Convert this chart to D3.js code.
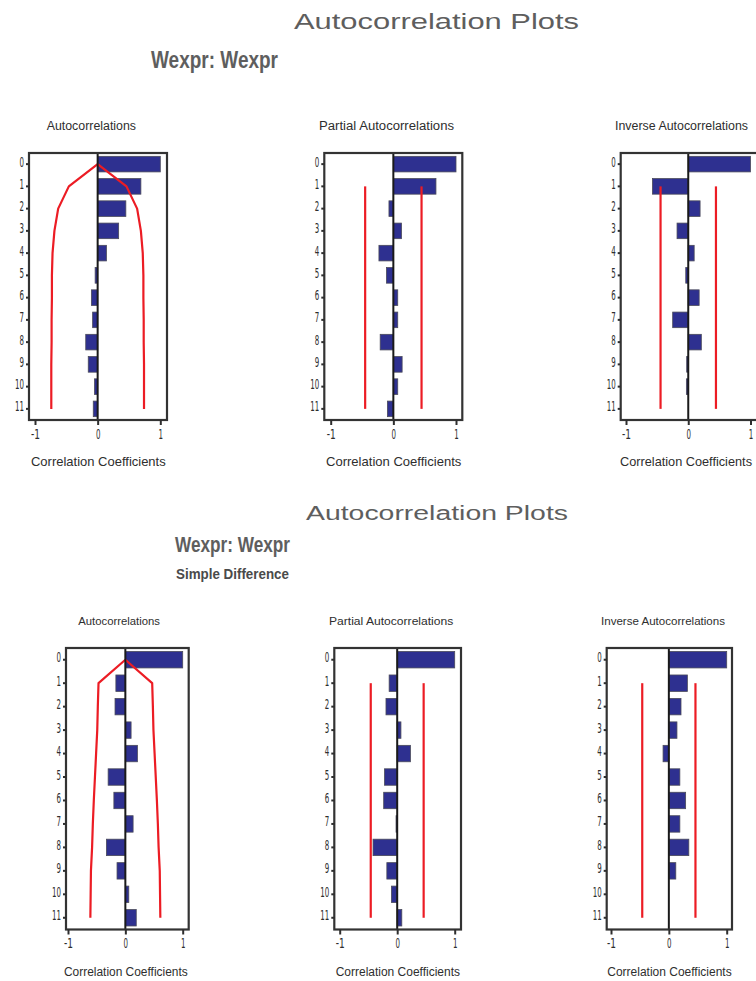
<!DOCTYPE html>
<html>
<head>
<meta charset="utf-8">
<script src="https://cdn.jsdelivr.net/npm/d3@7"></script>
<style>
  html, body { margin: 0; padding: 0; background: #ffffff; }
  svg { display: block; }
</style>
</head>
<body>
<script>
// ---- Data -------------------------------------------------------------
const lags = [0, 1, 2, 3, 4, 5, 6, 7, 8, 9, 10, 11];
const xTicks = [-1, 0, 1];

// Wexpr (level)
const acfLevel  = [1.0, 0.69, 0.45, 0.335, 0.14, -0.04, -0.10, -0.08, -0.19, -0.15, -0.05, -0.07];
const acfLevelBand = [0, 0.46, 0.63, 0.69, 0.72, 0.73, 0.73, 0.735, 0.735, 0.74, 0.74, 0.74];
const pacfLevel = [1.0, 0.68, -0.07, 0.13, -0.23, -0.11, 0.07, 0.07, -0.21, 0.14, 0.07, -0.095];
const pacfLevelLimit = 0.45;
const iacfLevel = [1.0, -0.575, 0.19, -0.18, 0.095, -0.04, 0.175, -0.25, 0.21, -0.025, -0.03, 0];
const iacfLevelLimit = 0.445;

// Wexpr (simple difference)
const acfDiff  = [1.0, -0.165, -0.18, 0.10, 0.21, -0.30, -0.20, 0.135, -0.33, -0.145, 0.06, 0.19];
const acfDiffBand = [0, 0.468, 0.48, 0.49, 0.51, 0.53, 0.55, 0.567, 0.58, 0.60, 0.605, 0.61];
const pacfDiff = [1.0, -0.14, -0.195, 0.065, 0.23, -0.22, -0.235, -0.02, -0.42, -0.18, -0.10, 0.08];
const pacfDiffLimit = 0.46;
const iacfDiff = [1.0, 0.32, 0.21, 0.14, -0.10, 0.19, 0.29, 0.19, 0.345, 0.12, 0, 0];
const iacfDiffLimit = 0.46;

// ---- Layout -----------------------------------------------------------
const W = 756, H = 981;
const svg = d3.select("body").append("svg").attr("width", W).attr("height", H);

const LABEL_FONT = "'DejaVu Sans', sans-serif";
const TITLE_FONT = "'Liberation Sans', Arial, sans-serif";
const BAR_FILL = "#2e3090";
const RED = "#ec1c24";
const INK = "#2e2e2e";

const topRow = { top: 153, bottom: 420, titleY: 130, axisTitleY: 466, titleFont: 12, axisFont: 13 };
const botRow = { top: 648, bottom: 929.5, titleY: 625, axisTitleY: 976, titleFont: 11.5, axisFont: 12.5 };

const panels = [
  { row: topRow, left: 29,    right: 167,   xm: 35,    xp: 160.3, values: acfLevel,  band: acfLevelBand,
    title: "Autocorrelations", tx: 46.7, tl: 89.3, ax: 31, al: 134.7 },
  { row: topRow, left: 324.3, right: 462.3, xm: 330.7, xp: 456,   values: pacfLevel, limit: pacfLevelLimit,
    title: "Partial Autocorrelations", tx: 319, tl: 135, ax: 326, al: 135.3 },
  { row: topRow, left: 620.7, right: 758.7, xm: 626,   xp: 750.5, values: iacfLevel, limit: iacfLevelLimit,
    title: "Inverse Autocorrelations", tx: 615, tl: 133, ax: 620, al: 132 },
  { row: botRow, left: 66,    right: 188.7, xm: 68,    xp: 182.7, values: acfDiff,   band: acfDiffBand,
    title: "Autocorrelations", tx: 78.3, tl: 81.7, ax: 64, al: 123.7 },
  { row: botRow, left: 334.3, right: 461,   xm: 339.7, xp: 454.7, values: pacfDiff,  limit: pacfDiffLimit,
    title: "Partial Autocorrelations", tx: 329, tl: 124.3, ax: 335.7, al: 124.3 },
  { row: botRow, left: 606.7, right: 732,   xm: 611,   xp: 726.7, values: iacfDiff,  limit: iacfDiffLimit,
    title: "Inverse Autocorrelations", tx: 601, tl: 124, ax: 607.3, al: 124.4 }
];

// ---- Titles -----------------------------------------------------------
function title(txt, x, y, len, size, weight, family, fill) {
  svg.append("text")
    .attr("x", x).attr("y", y)
    .attr("textLength", len).attr("lengthAdjust", "spacingAndGlyphs")
    .style("font-family", family).style("font-size", size + "px")
    .style("font-weight", weight).style("fill", fill)
    .text(txt);
}
const MAIN_FONT = "'Liberation Sans', Arial, sans-serif";
const SUB_FONT = "'Liberation Sans Narrow', 'Liberation Sans', Arial, sans-serif";

title("Autocorrelation Plots", 294, 28.5, 285, 22, "normal", MAIN_FONT, "#5e5e5e");
title("Wexpr: Wexpr", 151, 68, 127, 24, "bold", SUB_FONT, "#5e5e5e");
title("Autocorrelation Plots", 306, 519.5, 262, 20, "normal", MAIN_FONT, "#5e5e5e");
title("Wexpr: Wexpr", 175, 552, 115, 21.5, "bold", SUB_FONT, "#5e5e5e");
title("Simple Difference", 176, 579, 113, 15, "bold", SUB_FONT, "#4a4a4a");

// tall, narrow tick labels
function squeeze(sel, perChar) {
  sel.each(function () {
    const t = d3.select(this);
    const n = t.text().length;
    t.attr("textLength", perChar * n).attr("lengthAdjust", "spacingAndGlyphs");
  });
}

// ---- Panels -----------------------------------------------------------
panels.forEach(p => {
  const r = p.row;
  const x = d3.scaleLinear().domain([-1, 1]).range([p.xm, p.xp]);
  const y = d3.scaleBand().domain(lags).range([r.top, r.bottom]).paddingInner(0.3).paddingOuter(0.15);
  const yc = d => y(d) + y.bandwidth() / 2;
  const g = svg.append("g");

  // bars
  g.selectAll("rect.bar").data(lags).join("rect")
    .attr("class", "bar")
    .attr("x", d => x(Math.min(0, p.values[d])))
    .attr("y", d => y(d))
    .attr("width", d => Math.abs(x(p.values[d]) - x(0)))
    .attr("height", y.bandwidth())
    .attr("fill", BAR_FILL)
    .attr("stroke", "#4a4a5a")
    .attr("stroke-width", 0.8);

  // two standard error band (ACF) or limit lines (PACF / IACF)
  if (p.band) {
    const line = d3.line().x(d => d[0]).y(d => d[1]);
    [1, -1].forEach(s => {
      g.append("path")
        .datum(lags.map(d => [x(s * p.band[d]), yc(d)]))
        .attr("d", line)
        .attr("fill", "none").attr("stroke", RED).attr("stroke-width", 2.2)
        .attr("stroke-linejoin", "round");
    });
  } else {
    [-p.limit, p.limit].forEach(v => {
      g.append("line")
        .attr("x1", x(v)).attr("x2", x(v))
        .attr("y1", yc(1)).attr("y2", yc(11))
        .attr("stroke", RED).attr("stroke-width", 2.2);
    });
  }

  // zero reference line
  g.append("line")
    .attr("x1", x(0)).attr("x2", x(0))
    .attr("y1", r.top).attr("y2", r.bottom)
    .attr("stroke", "#1a1a1a").attr("stroke-width", 2);

  // frame
  g.append("rect")
    .attr("x", p.left).attr("y", r.top)
    .attr("width", p.right - p.left).attr("height", r.bottom - r.top)
    .attr("fill", "none").attr("stroke", "#333").attr("stroke-width", 2.2);

  // lag axis
  const ya = g.append("g")
    .attr("transform", `translate(${p.left},0)`)
    .call(d3.axisLeft(y).tickSize(3).tickPadding(2));
  ya.select(".domain").remove();
  ya.selectAll("line").attr("stroke", INK).attr("stroke-width", 2);
  ya.selectAll("text")
    .attr("dy", 2.5)
    .style("font-family", LABEL_FONT).style("font-size", "13.5px").style("fill", INK)
    .call(squeeze, 4.5);

  // correlation axis
  const xa = g.append("g")
    .attr("transform", `translate(0,${r.bottom})`)
    .call(d3.axisBottom(x).tickValues(xTicks).tickFormat(d => String(d)).tickSize(5).tickPadding(4));
  xa.select(".domain").remove();
  xa.selectAll("line").attr("stroke", INK).attr("stroke-width", 2);
  xa.selectAll("text")
    .style("font-family", LABEL_FONT).style("font-size", "13.5px").style("fill", INK)
    .call(squeeze, 4.5);

  // panel title and axis title
  g.append("text")
    .attr("x", p.tx).attr("y", r.titleY)
    .attr("textLength", p.tl).attr("lengthAdjust", "spacingAndGlyphs")
    .style("font-family", TITLE_FONT).style("font-size", r.titleFont + "px").style("fill", INK)
    .text(p.title);
  g.append("text")
    .attr("x", p.ax).attr("y", r.axisTitleY)
    .attr("textLength", p.al).attr("lengthAdjust", "spacingAndGlyphs")
    .style("font-family", TITLE_FONT).style("font-size", r.axisFont + "px").style("fill", INK)
    .text("Correlation Coefficients");
});
</script>
</body>
</html>
